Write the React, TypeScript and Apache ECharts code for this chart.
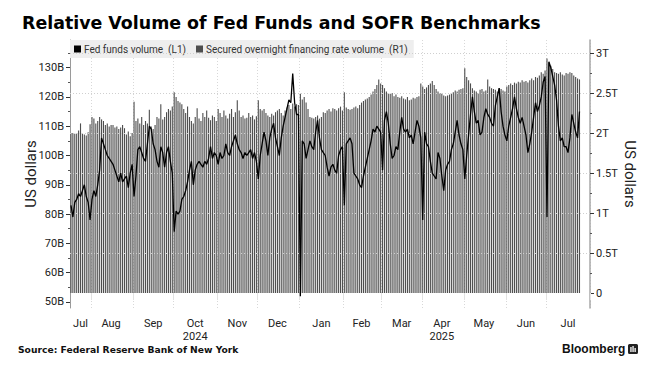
import React, { useEffect, useRef } from 'react';
import * as echarts from 'echarts';

// ---- categories (weekdays shown on the axis) ----
const START_DATE = '2024-07-17';
const END_DATE = '2025-07-31';
const MONTH_NAMES = ['Jan', 'Feb', 'Mar', 'Apr', 'May', 'Jun', 'Jul', 'Aug', 'Sep', 'Oct', 'Nov', 'Dec'];
const YEAR_LABELS: Record<string, string> = { '2024-10': '2024', '2025-04': '2025' };

// ---- tick labels ----
const leftTicks = [50, 60, 70, 80, 90, 100, 110, 120, 130];
const leftMinorTicks = [55, 65, 75, 85, 95, 105, 115, 125, 135];
const rightTicks = [0, 0.5, 1, 1.5, 2, 2.5, 3];
const rightMinorTicks = [0.25, 0.75, 1.25, 1.75, 2.25, 2.75];

// ---- Fed funds volume, US$ billions (one value per weekday) ----
const fedJul24 = [83, 79, 84, 85, 87, 86, 88, 90, 86, 84, 78];
const fedAug24 = [85, 88, 86, 90, 95, 106, 104, 102, 100, 99, 98, 97, 95, 93, 91, 94, 91, 92, 93, 89, 94, 97];
const fedSep24 = [86, 93, 102, 103, 101, 99, 98, 104, 110, 109, 104, 102, 98, 96, 103, 101, 96, 101, 103, 98, 94];
const fedOct24 = [74, 81, 80, 81, 85, 86, 88, 91, 95, 98, 90, 95, 97, 98, 97, 96, 98, 97, 99, 103, 99, 101, 100];
const fedNov24 = [97, 101, 99, 100, 104, 101, 100, 103, 105, 107, 104, 102, 101, 99, 101, 100, 101, 102, 99, 101, 98];
const fedDec24 = [92, 100, 104, 108, 105, 100, 106, 109, 111, 106, 103, 100, 106, 110, 113, 116, 119, 118, 128, 118, 114, 114];
const fedJan25 = [52, 105, 104, 99, 102, 105, 103, 102, 108, 112, 106, 102, 101, 100, 96, 93, 96, 97, 95, 94, 100, 102, 103];
const fedFeb25 = [83, 104, 105, 106, 104, 94, 93, 92, 90, 89, 93, 96, 99, 102, 105, 109, 108, 110, 109, 108];
const fedMar25 = [95, 112, 115, 111, 104, 99, 100, 103, 102, 108, 113, 109, 108, 109, 106, 107, 104, 108, 112, 110, 106];
const fedApr25 = [78, 108, 104, 103, 98, 94, 93, 92, 101, 99, 93, 88, 95, 97, 98, 102, 104, 108, 112, 107, 104, 102];
const fedMay25 = [92, 100, 107, 114, 120, 115, 111, 112, 107, 108, 113, 116, 114, 113, 111, 110, 117, 120, 123, 115, 110, 107];
const fedJun25 = [105, 110, 113, 116, 120, 116, 113, 111, 113, 110, 107, 101, 104, 108, 113, 118, 115, 117, 120, 125, 127];
const fedJul25 = [79, 132, 130, 127, 124, 119, 110, 105, 106, 103, 103, 101, 106, 114, 111, 108, 106, 115];

// ---- SOFR volume, US$ trillions (one value per weekday) ----
const sofrJul24 = [2.0, 2.0, 1.99, 2.0, 2.03, 2.12, 2.0, 1.98, 1.97, 2.01, 2.11];
const sofrAug24 = [2.2, 2.18, 2.12, 2.15, 2.2, 2.17, 2.15, 2.1, 2.12, 2.08, 2.1, 2.1, 2.07, 2.08, 2.05, 2.07, 2.1, 2.06, 1.98, 2.02, 1.96, 2.0];
const sofrSep24 = [2.39, 2.15, 2.18, 2.12, 2.2, 2.1, 2.15, 2.12, 2.29, 2.08, 2.05, 2.1, 2.2, 2.18, 2.36, 2.17, 2.2, 2.26, 2.3, 2.28, 2.33];
const sofrOct24 = [2.51, 2.45, 2.4, 2.38, 2.36, 2.3, 2.25, 2.33, 2.2, 2.15, 2.12, 2.2, 2.31, 2.18, 2.15, 2.25, 2.2, 2.28, 2.19, 2.16, 2.22, 2.2, 2.15];
const sofrNov24 = [2.3, 2.25, 2.2, 2.28, 2.22, 2.18, 2.24, 2.3, 2.2, 2.26, 2.41, 2.28, 2.2, 2.22, 2.18, 2.19, 2.25, 2.2, 2.22, 2.17, 2.21];
const sofrDec24 = [2.41, 2.3, 2.28, 2.3, 2.25, 2.22, 2.2, 2.24, 2.22, 2.26, 2.28, 2.3, 2.25, 2.22, 2.28, 2.32, 2.35, 2.3, 2.37, 2.33, 2.36, 2.35];
const sofrJan25 = [2.49, 2.42, 2.45, 2.38, 2.3, 2.2, 2.19, 2.18, 2.2, 2.22, 2.18, 2.2, 2.26, 2.25, 2.28, 2.3, 2.27, 2.31, 2.3, 2.28, 2.31, 2.33, 2.28];
const sofrFeb25 = [2.51, 2.32, 2.3, 2.29, 2.3, 2.32, 2.33, 2.31, 2.35, 2.38, 2.4, 2.42, 2.43, 2.45, 2.48, 2.52, 2.55, 2.6, 2.67, 2.62];
const sofrMar25 = [2.6, 2.56, 2.52, 2.5, 2.49, 2.5, 2.46, 2.48, 2.45, 2.44, 2.46, 2.43, 2.42, 2.45, 2.41, 2.42, 2.44, 2.43, 2.45, 2.46, 2.62];
const sofrApr25 = [2.58, 2.55, 2.57, 2.6, 2.62, 2.65, 2.6, 2.55, 2.52, 2.5, 2.49, 2.47, 2.46, 2.47, 2.48, 2.5, 2.51, 2.53, 2.52, 2.54, 2.55, 2.56];
const sofrMay25 = [2.81, 2.7, 2.66, 2.62, 2.56, 2.53, 2.52, 2.5, 2.54, 2.55, 2.52, 2.53, 2.67, 2.58, 2.56, 2.55, 2.54, 2.52, 2.56, 2.55, 2.53, 2.52];
const sofrJun25 = [2.58, 2.6, 2.62, 2.6, 2.63, 2.62, 2.64, 2.63, 2.66, 2.64, 2.65, 2.63, 2.66, 2.68, 2.66, 2.7, 2.69, 2.72, 2.76, 2.74, 2.78];
const sofrJul25 = [2.93, 2.88, 2.84, 2.8, 2.76, 2.75, 2.74, 2.76, 2.73, 2.72, 2.75, 2.74, 2.76, 2.75, 2.72, 2.7, 2.68, 2.67];

const FED_NAME = 'Fed funds volume  (L1)';
const SOFR_NAME = 'Secured overnight financing rate volume  (R1)';

function weekdays(start: string, end: string): string[] {
  const out: string[] = [];
  const d = new Date(start + 'T00:00:00Z');
  const e = new Date(end + 'T00:00:00Z');
  while (d <= e) {
    const wd = d.getUTCDay();
    if (wd !== 0 && wd !== 6) out.push(d.toISOString().slice(0, 10));
    d.setUTCDate(d.getUTCDate() + 1);
  }
  return out;
}

export default function App() {
  const ref = useRef<HTMLDivElement>(null);

  useEffect(() => {
    if (!ref.current) return;
    const chart = echarts.init(ref.current, undefined, { renderer: 'svg' });

    const cats = weekdays(START_DATE, END_DATE);
    const pad = (arr: number[]) => {
      const r: (number | null)[] = arr.slice();
      while (r.length < cats.length) r.push(null);
      return r;
    };
    const fed = pad([
      ...fedJul24, ...fedAug24, ...fedSep24, ...fedOct24, ...fedNov24, ...fedDec24,
      ...fedJan25, ...fedFeb25, ...fedMar25, ...fedApr25, ...fedMay25, ...fedJun25, ...fedJul25,
    ]);
    const sofr = pad([
      ...sofrJul24, ...sofrAug24, ...sofrSep24, ...sofrOct24, ...sofrNov24, ...sofrDec24,
      ...sofrJan25, ...sofrFeb25, ...sofrMar25, ...sofrApr25, ...sofrMay25, ...sofrJun25, ...sofrJul25,
    ]);

    // month groups
    const monthStarts = new Set<number>();
    const labelIdx = new Set<number>();
    let gStart = 0;
    for (let i = 1; i <= cats.length; i++) {
      if (i === cats.length || cats[i].slice(0, 7) !== cats[i - 1].slice(0, 7)) {
        labelIdx.add(Math.floor((gStart + i - 1) / 2));
        if (i < cats.length) monthStarts.add(i);
        gStart = i;
      }
    }

    const font = 'Roboto';
    const leftMin = 47.95, leftMax = 139.42;
    const rightMin = -0.1875, rightMax = 3.1625;

    chart.setOption({
      animation: false,
      backgroundColor: '#ffffff',
      title: {
        text: 'Relative Volume of Fed Funds and SOFR Benchmarks',
        left: 17,
        top: 9,
        textStyle: { fontFamily: 'DejaVu Sans', fontWeight: 'bold', fontSize: 17.4, color: '#000' },
      },
      legend: {
        left: 70,
        top: 40,
        orient: 'horizontal',
        backgroundColor: '#eeeeee',
        padding: [4, 6, 4, 4],
        itemWidth: 7,
        itemHeight: 7,
        itemGap: 10,
        icon: 'rect',
        data: [FED_NAME, SOFR_NAME],
        textStyle: { fontFamily: font, fontSize: 10, color: '#333', padding: [0, 0, 0, -2] },
      },
      grid: { left: 70, right: 68, top: 40, bottom: 62 },
      xAxis: {
        type: 'category',
        data: cats,
        boundaryGap: true,
        axisLine: { show: false },
        axisTick: {
          show: true,
          interval: (i: number) => monthStarts.has(i),
          length: 7,
          lineStyle: { color: '#e2e2e2' },
        },
        axisLabel: {
          interval: (i: number) => labelIdx.has(i),
          formatter: (v: string) => {
            const m = MONTH_NAMES[parseInt(v.slice(5, 7), 10) - 1];
            const y = YEAR_LABELS[v.slice(0, 7)];
            return y ? m + '\n' + y : m;
          },
          fontFamily: font,
          fontSize: 11,
          color: '#222',
          margin: 9,
          lineHeight: 13,
        },
        splitLine: {
          show: true,
          interval: (i: number) => monthStarts.has(i),
          lineStyle: { color: '#d8d8d8', type: [1, 2], width: 1 },
        },
      },
      yAxis: [
        {
          type: 'value',
          position: 'left',
          min: leftMin,
          max: leftMax,
          axisLine: { show: true, lineStyle: { color: '#9a9a9a', width: 1 } },
          axisTick: { show: true, customValues: leftTicks, length: 4, lineStyle: { color: '#333' } },
          axisLabel: {
            customValues: leftTicks,
            formatter: (v: number) => `${v}B`,
            fontFamily: font,
            fontSize: 11,
            color: '#222',
            margin: 6,
          },
          splitLine: { show: false },
          name: 'US dollars',
          nameLocation: 'middle',
          nameRotate: 90,
          nameGap: 32,
          nameMoveOverlap: false,
          nameTextStyle: { fontFamily: font, fontSize: 15, color: '#222' },
        },
        {
          type: 'value',
          position: 'right',
          min: rightMin,
          max: rightMax,
          axisLine: { show: true, lineStyle: { color: '#a8a8a8', width: 1.5 } },
          axisTick: { show: true, customValues: rightTicks, length: 4, lineStyle: { color: '#333' } },
          axisLabel: {
            customValues: rightTicks,
            formatter: (v: number) => (v === 0 ? '0' : `${v}T`),
            fontFamily: font,
            fontSize: 11,
            color: '#222',
            margin: 6,
          },
          splitLine: { show: false },
          name: 'US dollars',
          nameLocation: 'middle',
          nameRotate: -90,
          nameGap: 32,
          nameMoveOverlap: false,
          nameTextStyle: { fontFamily: font, fontSize: 15, color: '#222' },
        },
        {
          type: 'value',
          position: 'left',
          min: leftMin,
          max: leftMax,
          axisLine: { show: false },
          axisTick: { show: true, customValues: leftMinorTicks, length: 2, lineStyle: { color: '#555' } },
          axisLabel: { show: false },
          splitLine: { show: false },
        },
        {
          type: 'value',
          position: 'right',
          min: rightMin,
          max: rightMax,
          axisLine: { show: false },
          axisTick: { show: true, customValues: rightMinorTicks, length: 2, lineStyle: { color: '#555' } },
          axisLabel: { show: false },
          splitLine: { show: false },
        },
      ],
      series: [
        {
          name: SOFR_NAME,
          type: 'bar',
          yAxisIndex: 1,
          data: sofr,
          barWidth: '58%',
          itemStyle: { color: '#4e4e4e' },
          z: 2,
          markLine: {
            silent: true,
            symbol: 'none',
            label: { show: false },
            lineStyle: { color: '#cfcfcf', type: [1, 2], width: 1 },
            data: rightTicks.filter((t) => t > 0).map((t) => ({ yAxis: t })),
          },
        },
        {
          name: FED_NAME,
          type: 'line',
          yAxisIndex: 0,
          data: fed,
          symbol: 'none',
          itemStyle: { color: '#000' },
          lineStyle: { color: '#000', width: 1.3 },
          z: 5,
        },
      ],
      graphic: [
        {
          type: 'text',
          left: 18,
          top: 345,
          style: { text: 'Source: Federal Reserve Bank of New York', font: 'bold 9.2px "DejaVu Sans"', fill: '#111' },
        },
        {
          type: 'text',
          left: 562,
          top: 343,
          style: { text: 'Bloomberg', font: 'bold 12px "Liberation Sans"', fill: '#111' },
        },
        {
          type: 'group',
          left: 628,
          top: 344,
          children: [
            { type: 'rect', shape: { x: 0, y: 0, width: 10, height: 10, r: 1.5 }, style: { fill: '#222' } },
            { type: 'rect', shape: { x: 2.3, y: 3, width: 1.3, height: 5 }, style: { fill: '#fff' } },
            { type: 'rect', shape: { x: 4.4, y: 2, width: 1.3, height: 6 }, style: { fill: '#fff' } },
            { type: 'rect', shape: { x: 6.5, y: 4, width: 1.3, height: 4 }, style: { fill: '#fff' } },
          ],
        },
      ],
    });

    return () => chart.dispose();
  }, []);

  return <div ref={ref} style={{ width: 658, height: 370, position: 'absolute', left: 0, top: 0 }} />;
}
